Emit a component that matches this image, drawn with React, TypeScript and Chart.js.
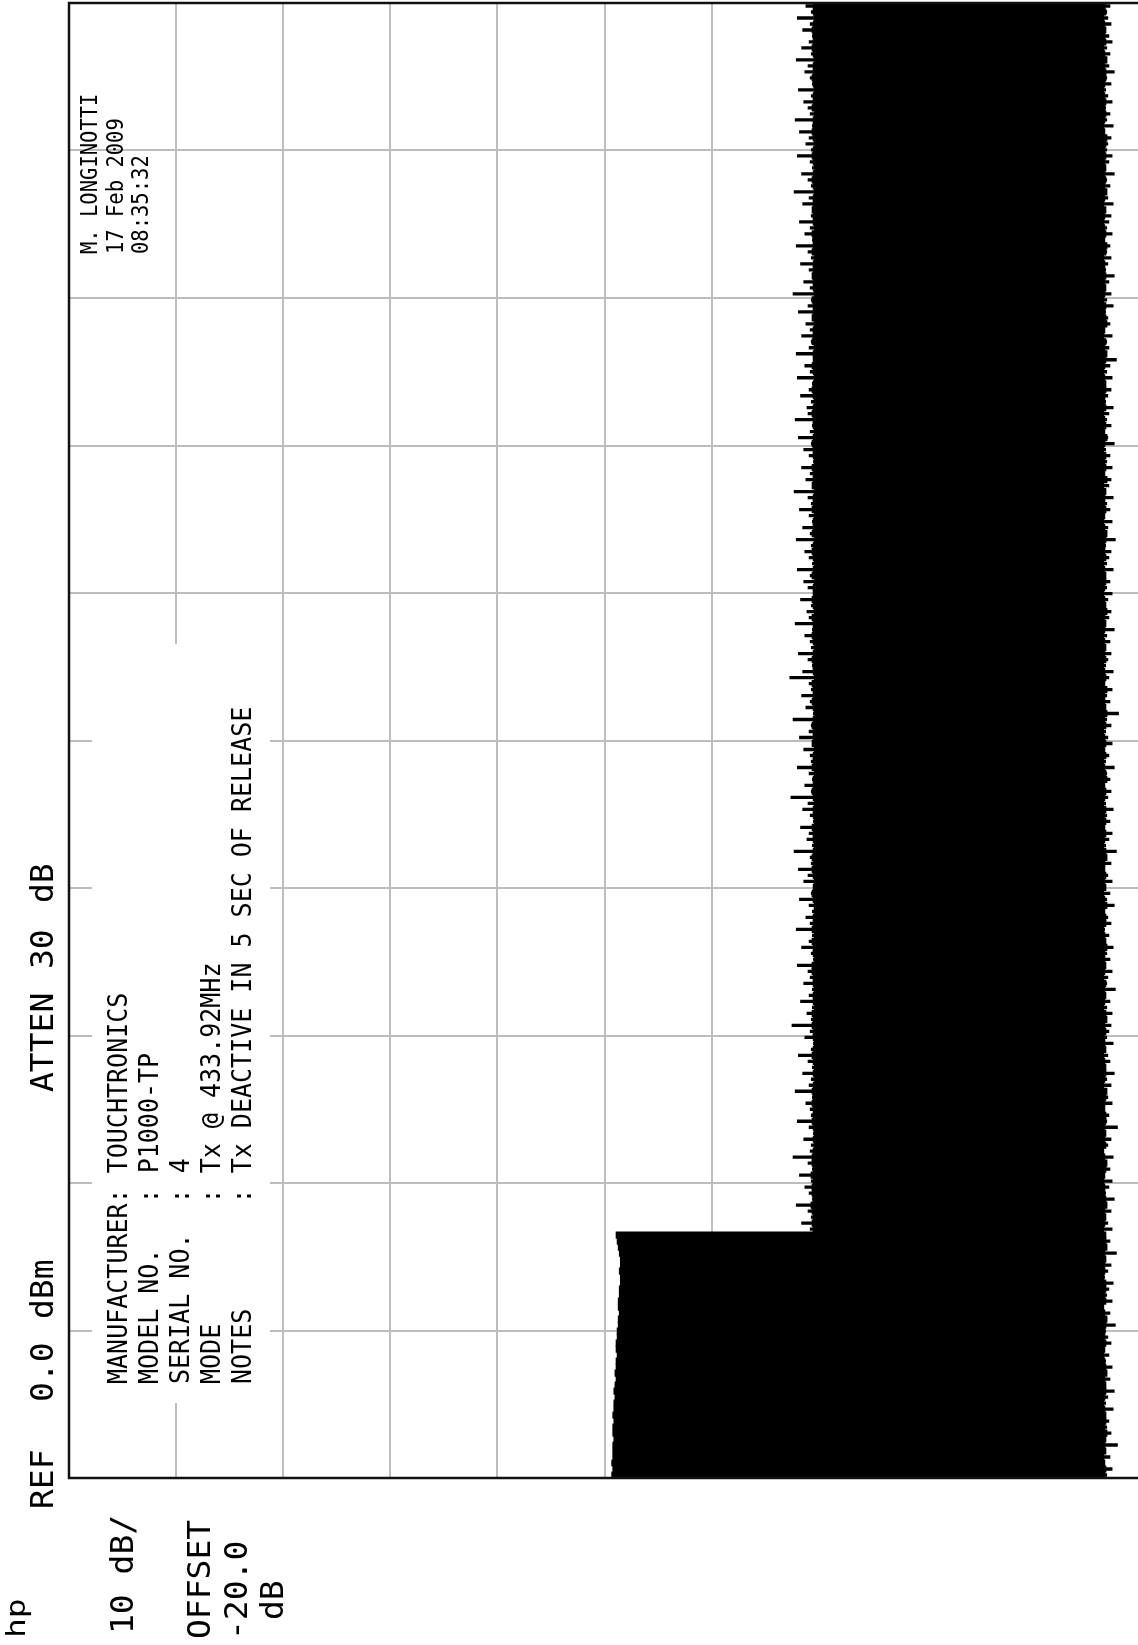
import React, { useEffect, useRef } from "react";
import { Chart, registerables } from "chart.js";

Chart.register(...registerables);

// ---- Data (zero-span trace envelope, dBm), index 0 = start of sweep ----
// Peak tips of the trace envelope (thin spikes on the high side)
const PEAK_DBM: number[] = [
  -50.7, -50.8, -50.7, -50.8, -50.8, -50.8, -50.9, -50.8, -50.8, -50.9,
  -50.8, -50.9, -50.9, -51.0, -50.9, -51.0, -51.1, -51.0, -51.1, -51.1,
  -51.2, -51.1, -51.1, -51.2, -51.2, -51.3, -51.3, -51.4, -51.3, -51.3,
  -51.4, -51.4, -51.5, -51.5, -51.4, -51.5, -51.5, -51.4, -51.3, -51.2,
  -51.1,
  -69.2, -68.4, -69.3, -69.0, -67.9, -69.4, -69.1, -68.7, -69.3, -68.2,
  -69.4, -69.0, -67.6, -69.2, -69.3, -68.6, -69.5, -69.1, -68.0, -69.3,
  -69.2, -68.8, -69.4, -67.8, -69.1, -69.3, -68.5, -69.4, -69.0, -68.1,
  -69.3, -69.5, -68.7, -69.2, -67.5, -69.3, -68.9, -69.4, -68.3, -69.1,
  -69.4, -68.6, -69.2, -69.0, -68.0, -69.5, -69.3, -68.4, -69.1, -69.4,
  -67.9, -69.2, -68.8, -69.4, -69.1, -68.2, -69.3, -69.5, -68.6, -69.0,
  -68.1, -69.3, -69.2, -67.7, -69.4, -68.9, -69.1, -68.3, -69.5, -69.2,
  -68.5, -69.0, -67.4, -69.3, -68.7, -69.4, -69.1, -68.0, -69.3, -69.2,
  -68.6, -69.4, -68.2, -69.1, -69.3, -67.6, -69.5, -68.8, -69.2, -68.4,
  -69.3, -69.1, -67.3, -68.5, -69.4, -69.0, -68.1, -69.3, -69.2, -68.7,
  -69.4, -67.8, -69.1, -68.9, -69.3, -68.3, -69.5, -69.0, -68.6, -69.2,
  -68.0, -69.4, -69.1, -68.7, -69.3, -67.9, -69.2, -68.5, -69.4, -69.1,
  -68.2, -69.3, -69.0, -67.7, -69.4, -68.8, -69.2, -68.4, -69.5, -69.1,
  -68.6, -69.3, -68.1, -69.2, -69.4, -67.8, -69.0, -68.9, -69.3, -68.3,
  -69.1, -69.4, -68.0, -69.2, -68.7, -69.5, -67.9, -69.1, -69.3, -68.4,
  -69.2, -68.8, -69.4, -68.1, -69.0, -69.3, -67.6, -69.2, -68.6, -69.4,
  -69.1, -68.3, -69.3, -69.0, -67.9, -69.4, -68.7, -69.2, -68.2, -69.3,
  -69.5, -68.5, -69.1, -67.7, -69.3, -69.0, -68.4, -69.4, -69.2, -68.0,
  -69.3, -68.8, -69.1, -68.2, -69.4, -67.8, -69.2, -69.0, -68.6, -69.3,
  -68.1, -69.4, -69.2, -68.7, -69.0, -67.9, -69.3, -68.4, -69.1, -69.4,
  -68.5, -69.2, -68.0, -69.3, -68.8,
];

// Solid body edge on the high side
const PEAK_BODY_DBM: number[] = [
  -50.7, -50.8, -50.7, -50.8, -50.8, -50.8, -50.9, -50.8, -50.8, -50.9,
  -50.8, -50.9, -50.9, -51.0, -50.9, -51.0, -51.1, -51.0, -51.1, -51.1,
  -51.2, -51.1, -51.1, -51.2, -51.2, -51.3, -51.3, -51.4, -51.3, -51.3,
  -51.4, -51.4, -51.5, -51.5, -51.4, -51.5, -51.5, -51.4, -51.3, -51.2,
  -51.1,
  -69.5, -69.4, -69.5, -69.4, -69.3, -69.5, -69.4, -69.4, -69.5, -69.3,
  -69.5, -69.4, -69.4, -69.5, -69.6, -69.5, -69.6, -69.5, -69.4, -69.5,
  -69.5, -69.4, -69.5, -69.4, -69.5, -69.6, -69.5, -69.6, -69.5, -69.4,
  -69.5, -69.6, -69.5, -69.5, -69.4, -69.5, -69.4, -69.6, -69.5, -69.5,
  -69.6, -69.5, -69.5, -69.4, -69.4, -69.6, -69.5, -69.5, -69.4, -69.6,
  -69.4, -69.5, -69.5, -69.6, -69.6, -69.5, -69.4, -69.5, -69.6, -69.5,
  -69.4, -69.5, -69.4, -69.5, -69.6, -69.5, -69.5, -69.4, -69.6, -69.5,
  -69.5, -69.6, -69.5, -69.4, -69.5, -69.5, -69.6, -69.4, -69.5, -69.5,
  -69.6, -69.4, -69.5, -69.5, -69.4, -69.5, -69.6, -69.5, -69.4, -69.5,
  -69.5, -69.4, -69.6, -69.5, -69.5, -69.4, -69.5, -69.6, -69.5, -69.4,
  -69.5, -69.5, -69.4, -69.6, -69.5, -69.4, -69.5, -69.5, -69.6, -69.4,
  -69.5, -69.6, -69.5, -69.4, -69.5, -69.6, -69.4, -69.5, -69.5, -69.6,
  -69.4, -69.5, -69.5, -69.6, -69.4, -69.5, -69.5, -69.4, -69.6, -69.5,
  -69.5, -69.4, -69.5, -69.6, -69.5, -69.5, -69.4, -69.5, -69.6, -69.5,
  -69.4, -69.5, -69.6, -69.5, -69.4, -69.5, -69.5, -69.6, -69.4, -69.5,
  -69.5, -69.6, -69.4, -69.5, -69.5, -69.4, -69.6, -69.5, -69.5, -69.4,
  -69.5, -69.5, -69.6, -69.4, -69.5, -69.5, -69.4, -69.6, -69.5, -69.5,
  -69.4, -69.5, -69.5, -69.6, -69.5, -69.4, -69.5, -69.6, -69.5, -69.4,
  -69.5, -69.6, -69.5, -69.4, -69.5, -69.5, -69.6, -69.4, -69.5, -69.5,
  -69.6, -69.5, -69.4, -69.5, -69.5, -69.6, -69.5, -69.4, -69.5, -69.5,
  -69.4, -69.5, -69.6, -69.5, -69.5,
];

// Minimum tips of the trace envelope (thin spikes on the low side)
const FLOOR_DBM: number[] = [
  -96.9, -97.4, -96.7, -97.2, -96.8, -97.9, -96.6, -97.3, -96.9, -97.1,
  -96.7, -97.5, -96.8, -97.0, -97.6, -96.6, -97.2, -96.9, -97.4, -96.8,
  -97.1, -96.5, -97.3, -97.0, -96.8, -97.7, -96.9, -97.2, -96.6, -97.4,
  -96.9, -97.1, -97.5, -96.7, -97.0, -97.3, -96.6, -97.8, -96.9, -97.2,
  -96.8, -97.4, -97.0, -96.6, -97.3, -96.9, -97.6, -96.8, -97.1, -97.4,
  -96.7, -97.2, -96.9, -97.5, -96.6, -97.0, -97.3, -96.8, -97.9, -96.9,
  -97.1, -96.7, -97.4, -97.0, -96.5, -97.3, -96.9, -97.6, -96.8, -97.2,
  -97.0, -96.6, -97.5, -96.9, -97.1, -97.3, -96.7, -97.4, -96.9, -97.2,
  -96.8, -97.7, -96.9, -97.0, -97.4, -96.6, -97.2, -96.9, -97.5, -96.8,
  -97.1, -96.7, -97.3, -97.0, -96.6, -97.6, -96.9, -97.2, -96.8, -97.4,
  -97.0, -96.7, -97.3, -96.9, -97.8, -96.8, -97.1, -97.4, -96.6, -97.2,
  -96.9, -97.5, -96.8, -97.0, -97.3, -96.7, -97.2, -96.9, -97.6, -96.8,
  -97.1, -96.6, -97.4, -97.0, -96.8, -97.3, -96.9, -98.0, -96.7, -97.2,
  -96.9, -97.4, -96.7, -97.1, -97.5, -96.8, -97.0, -97.3, -96.6, -97.2,
  -96.9, -97.6, -96.8, -97.1, -97.3, -96.7, -97.0, -97.4, -96.9, -97.2,
  -96.6, -97.5, -96.9, -97.1, -97.3, -96.8, -97.7, -96.9, -97.0, -97.4,
  -96.7, -97.2, -96.9, -97.5, -96.8, -97.1, -97.3, -96.6, -97.4, -96.9,
  -97.2, -96.8, -97.6, -97.0, -96.7, -97.3, -96.9, -97.1, -97.5, -96.8,
  -97.0, -97.3, -96.6, -97.4, -96.9, -97.2, -97.8, -96.8, -97.1, -96.9,
  -97.4, -96.7, -97.2, -97.0, -96.8, -97.5, -96.9, -97.3, -96.7, -97.1,
  -97.6, -96.8, -97.0, -97.3, -96.9, -97.2, -96.6, -97.4, -96.9, -97.1,
  -97.3, -96.8, -97.5, -97.0, -96.7, -97.2, -96.9, -97.6, -96.8, -97.1,
  -97.4, -96.9, -97.0, -97.3, -96.7, -97.5, -96.9, -97.2, -96.8, -97.4,
  -97.0, -96.8, -97.3, -96.9, -97.6, -97.1, -96.8, -97.2, -96.9, -97.4,
  -97.1, -96.8, -97.3, -97.0, -96.9, -97.2,
];

// Solid body edge on the low side
const FLOOR_BODY_DBM: number[] = [
  -96.7, -96.8, -96.7, -96.6, -96.8, -96.7, -96.8, -96.9, -96.7, -96.8,
  -96.8, -96.7, -96.6, -96.7, -96.8, -96.8, -96.7, -96.9, -96.8, -96.7,
  -96.6, -96.7, -96.8, -96.7, -96.7, -96.8, -96.9, -96.7, -96.6, -96.8,
  -96.7, -96.8, -96.8, -96.6, -96.7, -96.7, -96.8, -96.7, -96.9, -96.8,
  -96.8, -96.6, -96.7, -96.8, -96.7, -96.9, -96.8, -96.7, -96.7, -96.6,
  -96.7, -96.8, -96.9, -96.7, -96.6, -96.8, -96.7, -96.8, -96.7, -96.8,
  -96.8, -96.7, -96.7, -96.8, -96.9, -96.6, -96.7, -96.8, -96.8, -96.7,
  -96.6, -96.8, -96.7, -96.7, -96.8, -96.7, -96.9, -96.8, -96.6, -96.7,
  -96.8, -96.7, -96.8, -96.6, -96.7, -96.8, -96.7, -96.7, -96.9, -96.8,
  -96.7, -96.6, -96.8, -96.8, -96.7, -96.9, -96.7, -96.6, -96.8, -96.7,
  -96.8, -96.7, -96.7, -96.9, -96.8, -96.6, -96.7, -96.8, -96.7, -96.8,
  -96.7, -96.8, -96.6, -96.7, -96.8, -96.7, -96.9, -96.8, -96.7, -96.6,
  -96.8, -96.7, -96.8, -96.7, -96.6, -96.8, -96.7, -96.9, -96.8, -96.7,
  -96.7, -96.9, -96.7, -96.8, -96.7, -96.6, -96.8, -96.7, -96.8, -96.7,
  -96.6, -96.7, -96.8, -96.7, -96.9, -96.8, -96.7, -96.6, -96.7, -96.8,
  -96.8, -96.7, -96.6, -96.8, -96.7, -96.7, -96.8, -96.9, -96.7, -96.6,
  -96.7, -96.8, -96.7, -96.7, -96.8, -96.6, -96.9, -96.7, -96.8, -96.7,
  -96.8, -96.6, -96.7, -96.9, -96.7, -96.8, -96.7, -96.6, -96.8, -96.7,
  -96.7, -96.8, -96.8, -96.7, -96.6, -96.7, -96.8, -96.9, -96.7, -96.8,
  -96.6, -96.7, -96.9, -96.8, -96.7, -96.8, -96.6, -96.7, -96.8, -96.7,
  -96.8, -96.7, -96.7, -96.6, -96.8, -96.9, -96.7, -96.8, -96.7, -96.6,
  -96.7, -96.8, -96.6, -96.7, -96.9, -96.7, -96.8, -96.7, -96.8, -96.7,
  -96.8, -96.7, -96.8, -96.9, -96.7, -96.6, -96.7, -96.8, -96.7, -96.8,
  -96.7, -96.6, -96.7, -96.8, -96.8, -96.7, -96.9, -96.7, -96.6, -96.8,
  -96.7, -96.8, -96.7, -96.6, -96.8, -96.7,
];

const TIME_INDEX: number[] = PEAK_DBM.map((_, i) => i);

const AMP_MIN = -100; // bottom graticule (right side of rotated plot)
const AMP_MAX = 0; // REF level
const AMP_STEP = 10; // 10 dB/div
const TIME_DIVS = 10;

// ---- Annotation texts ----
const HEADER_WORDS = ["REF", "0.0", "dBm", "ATTEN", "30", "dB"];
const SCALE_TEXT = ["10 dB/", "OFFSET", "-20.0", "dB"];
const INFO_LINES = [
  "MANUFACTURER: TOUCHTRONICS",
  "MODEL NO.   : P1000-TP",
  "SERIAL NO.  : 4",
  "MODE        : Tx @ 433.92MHz",
  "NOTES       : Tx DEACTIVE IN 5 SEC OF RELEASE",
];
const STAMP_LINES = ["M. LONGINOTTI", "17 Feb 2009", "08:35:32"];

const MONO = '"DejaVu Sans Mono", "Liberation Mono", monospace';
const GRID = "#bdbdbd";

function drawRot(
  ctx: CanvasRenderingContext2D,
  text: string,
  baseX: number,
  startY: number,
  size: number,
  stretch: number
) {
  ctx.save();
  ctx.translate(baseX, startY);
  ctx.rotate(-Math.PI / 2);
  ctx.scale(1, stretch);
  ctx.font = `${size}px ${MONO}`;
  ctx.fillStyle = "#000";
  ctx.textAlign = "left";
  ctx.textBaseline = "alphabetic";
  ctx.fillText(text, 0, 0);
  ctx.restore();
}

const overlayPlugin = {
  id: "hpOverlay",
  beforeDatasetsDraw(chart: any) {
    const ctx = chart.ctx as CanvasRenderingContext2D;
    ctx.save();
    ctx.fillStyle = "#fff";
    ctx.fillRect(92, 644, 178, 759);
    ctx.restore();
  },
  afterDatasetsDraw(chart: any) {
    const ctx = chart.ctx as CanvasRenderingContext2D;
    const { left, right, top, bottom } = chart.chartArea;
    ctx.save();
    ctx.strokeStyle = "#111";
    ctx.lineWidth = 2.5;
    ctx.beginPath();
    ctx.moveTo(right + 5, top);
    ctx.lineTo(left, top);
    ctx.lineTo(left, bottom);
    ctx.lineTo(right + 5, bottom);
    ctx.stroke();
    ctx.restore();
  },
  afterDraw(chart: any) {
    const ctx = chart.ctx as CanvasRenderingContext2D;
    // header column
    drawRot(ctx, "hp", 25, 1638, 33, 0.8);
    const headerPos = [1509, 1402, 1319, 1092, 969, 903];
    HEADER_WORDS.forEach((w, i) => drawRot(ctx, w, 53, headerPos[i], 33, 0.97));
    // scale / offset
    drawRot(ctx, SCALE_TEXT[0], 133, 1634, 33, 0.97);
    drawRot(ctx, SCALE_TEXT[1], 210, 1639, 33, 0.97);
    drawRot(ctx, SCALE_TEXT[2], 247, 1640, 33, 0.97);
    drawRot(ctx, SCALE_TEXT[3], 283, 1620, 33, 0.97);
    // info block
    INFO_LINES.forEach((t, i) => drawRot(ctx, t, 127 + i * 31, 1384, 25, 1.08));
    // stamp
    STAMP_LINES.forEach((t, i) => drawRot(ctx, t, 97 + i * 25.5, 254, 20.5, 1.1));
  },
};

export default function App() {
  const canvasRef = useRef<HTMLCanvasElement | null>(null);

  useEffect(() => {
    const canvas = canvasRef.current;
    if (!canvas) return;
    const chart = new Chart(canvas, {
      type: "bar",
      data: {
        labels: TIME_INDEX,
        datasets: [
          {
            label: "body",
            data: PEAK_BODY_DBM.map((p, i) => [FLOOR_BODY_DBM[i], p]) as any,
            backgroundColor: "#000",
            borderWidth: 0,
            barPercentage: 1,
            categoryPercentage: 1,
            inflateAmount: 0.6,
            grouped: false,
          } as any,
          {
            label: "envelope",
            data: PEAK_DBM.map((p, i) => [FLOOR_DBM[i], p]) as any,
            backgroundColor: "#000",
            borderWidth: 0,
            barPercentage: 0.45,
            categoryPercentage: 1,
            inflateAmount: 0.3,
            grouped: false,
          } as any,
        ],
      },
      options: {
        indexAxis: "y",
        responsive: false,
        maintainAspectRatio: false,
        animation: false,
        events: [],
        layout: { padding: { left: 69, top: 3, right: 10, bottom: 167 } },
        plugins: {
          legend: { display: false },
          tooltip: { enabled: false },
          title: { display: false },
        },
        scales: {
          x: {
            type: "linear",
            min: AMP_MIN,
            max: AMP_MAX,
            reverse: true,
            offset: false,
            ticks: { display: false, stepSize: AMP_STEP },
            grid: { color: GRID, lineWidth: 2, drawTicks: false, offset: false },
            border: { display: false },
          },
          y: {
            type: "category",
            reverse: true,
            display: false,
          },
          yg: {
            type: "linear",
            position: "left",
            min: 0,
            max: TIME_DIVS,
            offset: false,
            ticks: { display: false, stepSize: 1 },
            grid: { color: GRID, lineWidth: 2, drawTicks: false, offset: false },
            border: { display: false },
          },
        } as any,
      },
      plugins: [overlayPlugin],
    });
    return () => chart.destroy();
  }, []);

  return (
    <div
      style={{
        position: "absolute",
        left: 0,
        top: 0,
        width: 1138,
        height: 1645,
        overflow: "hidden",
        background: "#fff",
      }}
    >
      <canvas ref={canvasRef} width={1150} height={1645} style={{ display: "block" }} />
    </div>
  );
}
